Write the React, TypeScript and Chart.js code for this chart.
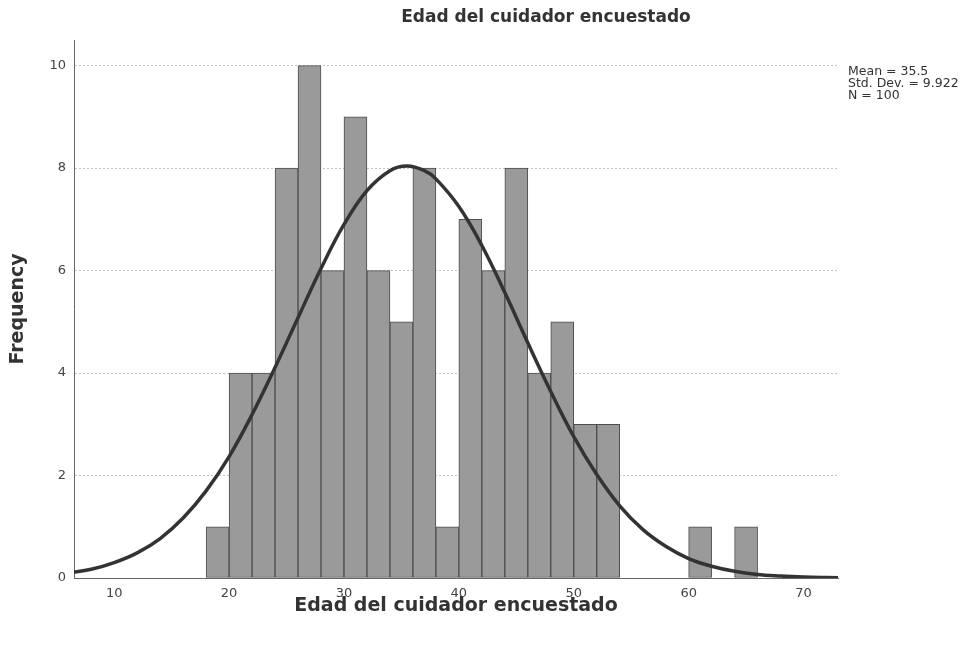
import React, { useEffect, useRef } from "react";
import { Chart, registerables } from "chart.js";

Chart.register(...registerables);

const chartTitle = "Edad del cuidador encuestado";
const xAxisTitle = "Edad del cuidador encuestado";
const yAxisTitle = "Frequency";
const statsLines = ["Mean = 35.5", "Std. Dev. = 9.922", "N = 100"];

// histogram bins (width 2), centers and counts
const binCenters = [19, 21, 23, 25, 27, 29, 31, 33, 35, 37, 39, 41, 43, 45, 47, 49, 51, 53, 61, 65];
const binCounts = [1, 4, 4, 8, 10, 6, 9, 6, 5, 8, 1, 7, 6, 8, 4, 5, 3, 3, 1, 1];

// normal curve
const curveX = [6, 8, 10, 12, 14, 16, 18, 20, 22, 24, 26, 28, 30, 32, 34, 35.5, 37, 38, 40, 42, 44, 46, 48, 50, 52, 54, 56, 58, 60, 62, 64, 66, 68, 70, 72, 74];
const curveY = [0.1, 0.17, 0.3, 0.49, 0.77, 1.17, 1.7, 2.37, 3.19, 4.11, 5.08, 6.04, 6.9, 7.56, 7.95, 8.04, 7.95, 7.79, 7.25, 6.49, 5.57, 4.59, 3.64, 2.76, 2.02, 1.41, 0.95, 0.62, 0.38, 0.23, 0.13, 0.07, 0.04, 0.02, 0.01, 0.004];

const FONT = "'DejaVu Sans', Verdana, sans-serif";

export default function App() {
  const ref = useRef<HTMLCanvasElement | null>(null);
  useEffect(() => {
    document.body.style.margin = "0";
    if (!ref.current) return;
    const textPlugin = {
      id: "texts",
      afterDraw(chart: any) {
        const ctx = chart.ctx;
        ctx.save();
        ctx.fillStyle = "#333";
        ctx.textBaseline = "middle";
        ctx.textAlign = "center";
        ctx.font = `bold 17px ${FONT}`;
        ctx.fillText(chartTitle, 546, 18);
        ctx.font = `12.5px ${FONT}`;
        ctx.textAlign = "left";
        statsLines.forEach((t, i) => ctx.fillText(t, 848, 72 + i * 12));
        ctx.restore();
      },
    };
    const chart = new Chart(ref.current, {
      type: "bar",
      data: {
        datasets: [
          {
            type: "line",
            data: curveX.map((x, i) => ({ x, y: curveY[i] })),
            borderColor: "#333333",
            borderWidth: 3.5,
            pointRadius: 0,
            tension: 0.4,
            fill: false,
            order: 0,
          } as any,
          {
            type: "bar",
            data: binCenters.map((x, i) => ({ x, y: binCounts[i] })),
            backgroundColor: "#9a9a9a",
            borderColor: "#4d4d4d",
            borderWidth: 1,
            borderSkipped: false,
            barPercentage: 1,
            categoryPercentage: 1,
            order: 1,
          } as any,
        ],
      },
      options: {
        animation: false,
        responsive: false,
        layout: { padding: { left: 0, right: 137, top: 40, bottom: 0 } },
        plugins: {
          legend: { display: false },
          tooltip: { enabled: false },
          title: { display: false },
        },
        scales: {
          x: {
            type: "linear",
            min: 6.5,
            max: 73,
            offset: false,
            grid: { display: false, drawTicks: false },
            border: { display: true, color: "#666", width: 1 },
            ticks: {
              stepSize: 10,
              includeBounds: false,
              color: "#444",
              padding: 8,
              font: { family: FONT, size: 13 },
            },
            title: {
              display: true,
              text: xAxisTitle,
              color: "#333",
              font: { family: FONT, size: 19, weight: "bold" },
              padding: { top: 0, bottom: 28 },
            },
            afterFit(scale: any) {
              scale.height = 67;
            },
          },
          y: {
            min: 0,
            max: 10.5,
            grid: { display: true, color: "#c4c4c4", lineWidth: 1, drawTicks: false },
            border: { display: true, color: "#666", width: 1, dash: [2, 2] },
            ticks: {
              stepSize: 2,
              includeBounds: false,
              color: "#444",
              padding: 8,
              font: { family: FONT, size: 13 },
            },
            title: {
              display: true,
              text: yAxisTitle,
              color: "#333",
              font: { family: FONT, size: 19, weight: "bold" },
              padding: { top: 7, bottom: 0 },
            },
            afterFit(scale: any) {
              scale.width = 74;
            },
          },
        },
      } as any,
      plugins: [textPlugin],
    });
    return () => chart.destroy();
  }, []);
  return (
    <div style={{ width: 975, height: 645, background: "#fff" }}>
      <canvas ref={ref} width={975} height={645} style={{ display: "block" }} />
    </div>
  );
}
